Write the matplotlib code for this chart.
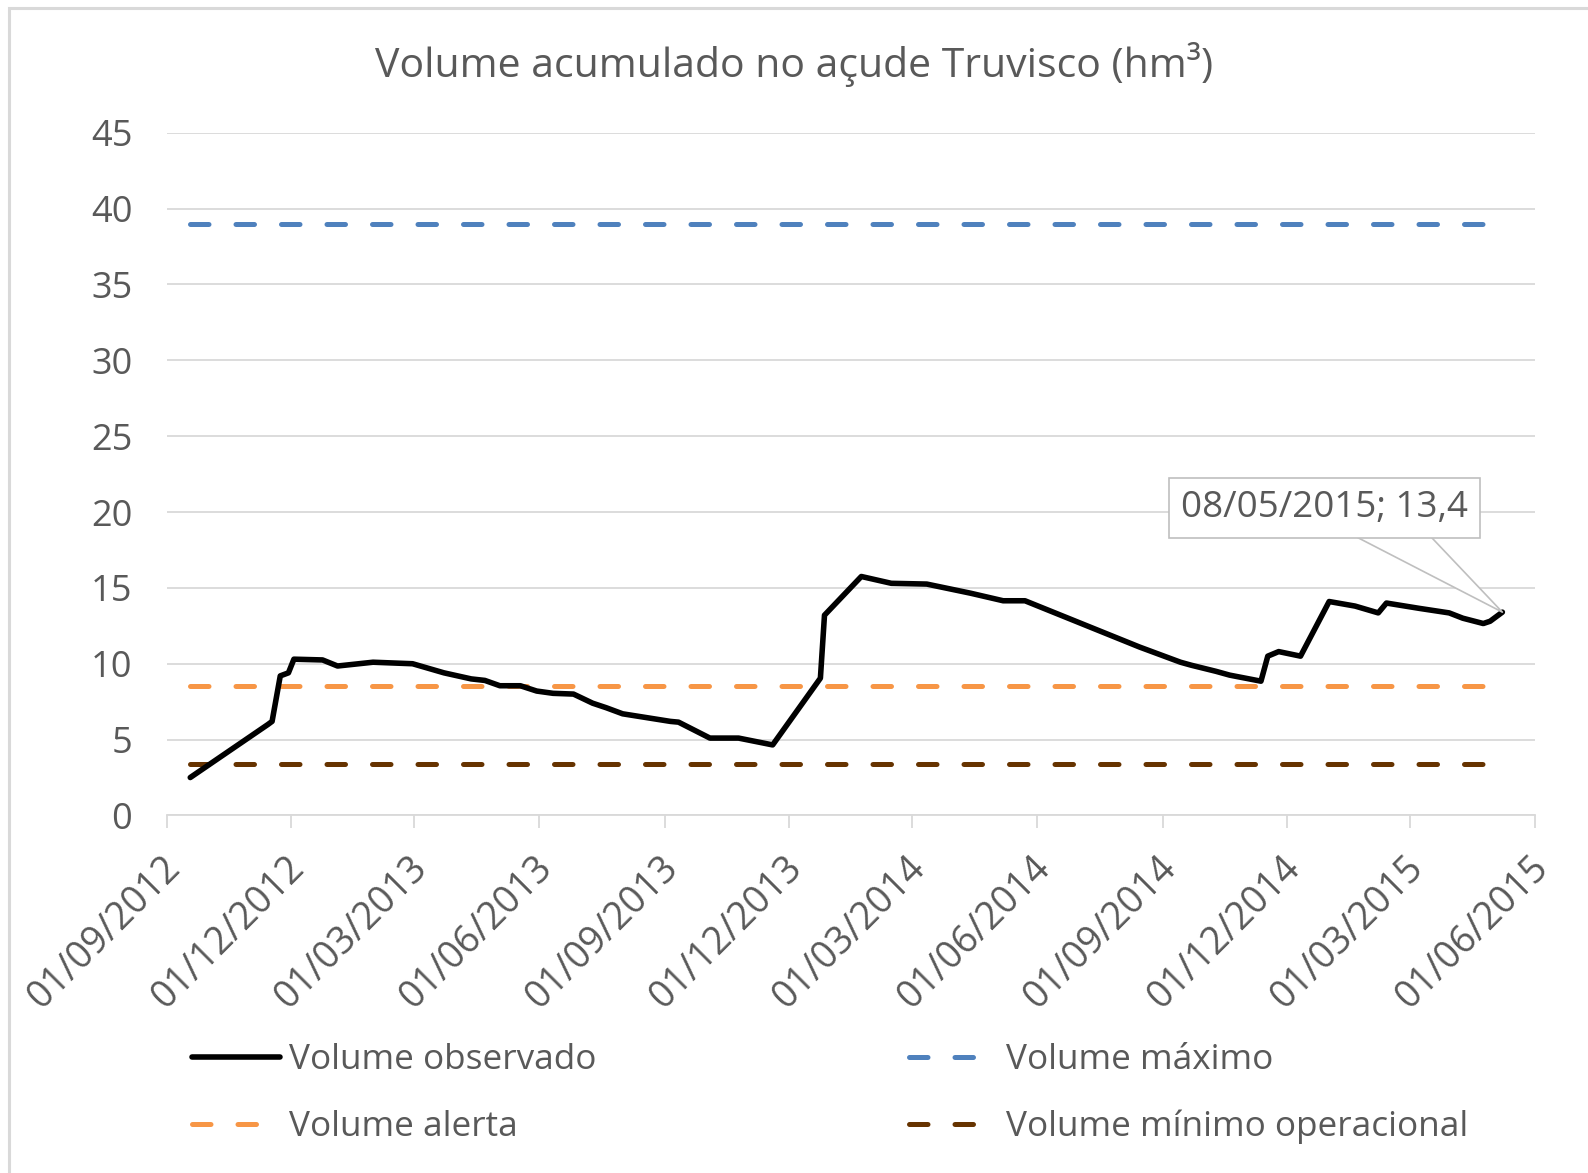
import matplotlib
matplotlib.use("Agg")
import matplotlib.pyplot as plt
import matplotlib.dates as mdates
import matplotlib.transforms as mtransforms
from matplotlib.patches import Rectangle
import pandas as pd

# observed storage of the Truvisco reservoir (hm3)
dates = ["2012-09-18", "2012-11-14", "2012-11-17", "2012-11-23", "2012-11-29",
         "2012-12-03", "2012-12-24", "2013-01-04", "2013-01-30", "2013-02-28",
         "2013-03-23", "2013-04-12", "2013-04-22", "2013-05-03", "2013-05-18",
         "2013-05-30", "2013-06-11", "2013-06-26", "2013-07-10", "2013-07-20",
         "2013-08-01", "2013-09-05", "2013-09-11", "2013-10-04", "2013-10-25",
         "2013-11-19", "2013-12-24", "2013-12-27", "2014-01-23", "2014-02-14",
         "2014-03-12", "2014-04-13", "2014-05-07", "2014-05-23", "2014-08-15",
         "2014-09-14", "2014-09-22", "2014-10-10", "2014-10-20", "2014-11-12",
         "2014-11-17", "2014-11-25", "2014-12-11", "2015-01-01", "2015-01-20",
         "2015-02-06", "2015-02-12", "2015-03-08", "2015-03-30", "2015-04-09",
         "2015-04-24", "2015-04-29", "2015-05-08"]
volume = [2.5, 6.0, 6.2, 9.2, 9.4,
          10.3, 10.25, 9.85, 10.1, 10.0,
          9.4, 9.0, 8.9, 8.55, 8.55,
          8.2, 8.05, 8.0, 7.4, 7.1,
          6.7, 6.2, 6.15, 5.1, 5.1,
          4.65, 9.05, 13.2, 15.75, 15.3,
          15.25, 14.65, 14.15, 14.15, 11.1,
          10.1, 9.9, 9.5, 9.25, 8.85,
          10.5, 10.8, 10.5, 14.1, 13.8,
          13.35, 14.0, 13.65, 13.35, 13.0,
          12.65, 12.8, 13.4]

vol_maximo = 39.0
vol_alerta = 8.5
vol_minimo = 3.4

x_start, x_end = "2012-09-01", "2015-06-01"

TXT = "#595959"
GRID = "#D9D9D9"
plt.rcParams["font.family"] = ["Open Sans", "DejaVu Sans"]

d = pd.to_datetime(dates)
n = len(d)

fig = plt.figure(figsize=(15.88, 11.73), dpi=100)
ax = fig.add_axes([0.1052, 0.3048, 0.8615, 0.5821])

dash = (0, (3.7, 5.4))
ax.plot(d, volume, color="black", lw=4.0, solid_capstyle="round",
        solid_joinstyle="round", label="Volume observado", zorder=5)
ax.plot(d, [vol_alerta] * n, color="#F79646", lw=3.6, ls=dash,
        dash_capstyle="round", label="Volume alerta")
ax.plot(d, [vol_maximo] * n, color="#4F81BD", lw=3.6, ls=dash,
        dash_capstyle="round", label="Volume máximo")
ax.plot(d, [vol_minimo] * n, color="#663300", lw=3.6, ls=dash,
        dash_capstyle="round", label="Volume mínimo operacional")

ax.set_ylim(0, 45)
ax.set_yticks(range(0, 46, 5))
ax.set_xlim(pd.Timestamp(x_start), pd.Timestamp(x_end))
ax.xaxis.set_major_locator(mdates.MonthLocator(bymonth=[3, 6, 9, 12]))
ax.xaxis.set_major_formatter(mdates.DateFormatter("%d/%m/%Y"))

ax.grid(axis="y", color=GRID, lw=1.3)
ax.set_axisbelow(True)
for s in ["left", "right", "top"]:
    ax.spines[s].set_visible(False)
ax.spines["bottom"].set_color(GRID)
ax.spines["bottom"].set_linewidth(1.3)
ax.tick_params(axis="y", length=0, pad=25, labelsize=26, labelcolor=TXT)
ax.tick_params(axis="x", length=9.5, width=1.3, color=GRID, pad=15,
               labelsize=27, labelcolor=TXT)
shift = mtransforms.ScaledTranslation(-0.06, 0, fig.dpi_scale_trans)
for lab in ax.get_xticklabels():
    lab.set_rotation(45)
    lab.set_ha("right")
    lab.set_va("top")
    lab.set_rotation_mode("anchor")
    lab.set_transform(lab.get_transform() + shift)

# data label on the last observation
last_d, last_v = d[-1], volume[-1]
label = f"{last_d:%d/%m/%Y}; {last_v:.1f}".replace(".", ",")
ax.annotate(label, xy=(last_d, last_v), xytext=(-128, 75),
            textcoords="offset points", ha="center", va="center",
            fontsize=26.5, color=TXT, zorder=10,
            bbox=dict(boxstyle="square,pad=0.32", fc="white", ec="#BFBFBF", lw=1.2),
            arrowprops=dict(arrowstyle="wedge,tail_width=4.2", mutation_scale=10,
                            fc="white", ec="#BFBFBF", lw=1.2, relpos=(0.64, 0.475),
                            shrinkA=0, shrinkB=0, patchA=None))

fig.text(0.5, 0.9454, "Volume acumulado no açude Truvisco (hm³)", ha="center",
         va="center", fontsize=29.5, color=TXT)

h, l = ax.get_legend_handles_labels()
fig.legend(h, l, ncol=2, loc="upper left", bbox_to_anchor=(0.1209, 0.1107),
           frameon=False, fontsize=25.3, labelcolor=TXT, borderpad=0,
           borderaxespad=0, handlelength=2.5, handletextpad=0.26,
           columnspacing=8.9, labelspacing=0.93)

fig.add_artist(Rectangle((9 / 1588, -0.1), 1.2, 1.1 - 7.5 / 1173, transform=fig.transFigure,
                         fill=False, ec=GRID, lw=2.2))

fig.savefig("out.png", dpi=100)
